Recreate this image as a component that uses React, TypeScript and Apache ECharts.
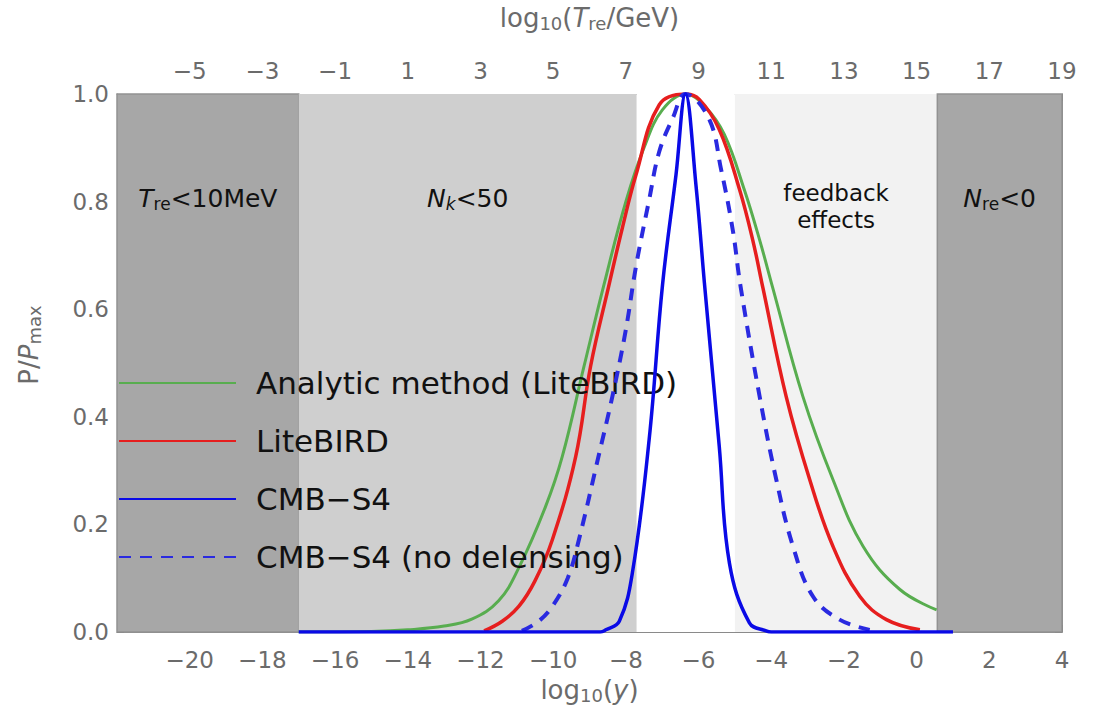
import React, { useEffect, useRef } from 'react';
import * as echarts from 'echarts';

// ---------- data ----------
const X_MIN = -22;
const X_MAX = 4;
const X_STEP = 2;
const TRE_OFFSET = 15; // log10(Tre/GeV) = log10(y) + 15 (top axis)
const Y_MIN = 0;
const Y_MAX = 1;
const Y_STEP = 0.2;

const REGION_EDGES = [-22, -17, -7.7, -5.0, 0.57, 4];
const REGION_LABELS = [
  '{i|T}{s|re}<10MeV',
  '{i|N}{si|k}<50',
  '',
  'feedback\neffects',
  '{i|N}{s|re}<0',
];

const SERIES_NAMES = [
  'Analytic method (LiteBIRD)',
  'LiteBIRD',
  'CMB−S4',
  'CMB−S4 (no delensing)',
];

const ANALYTIC: [number, number][] = [
  [-17, 0], [-15, 0.001], [-14, 0.004], [-13, 0.011], [-12.24, 0.024], [-11.5, 0.058],
  [-10.94, 0.12], [-10.21, 0.233], [-9.75, 0.326], [-9.15, 0.494], [-8.6, 0.646],
  [-8.0, 0.8], [-7.5, 0.9], [-7.0, 0.97], [-6.36, 1.0], [-5.8, 0.975], [-5.29, 0.925],
  [-4.74, 0.822], [-4.32, 0.729], [-3.96, 0.64], [-3.13, 0.438], [-2.3, 0.283],
  [-1.47, 0.159], [-0.46, 0.079], [0.55, 0.041],
];

const LITEBIRD: [number, number][] = [
  [-11.9, 0.002], [-11.4, 0.02], [-10.94, 0.048], [-10.5, 0.095], [-10.02, 0.172],
  [-9.38, 0.326], [-8.97, 0.494], [-8.46, 0.646], [-8.1, 0.75], [-7.72, 0.85],
  [-7.08, 0.98], [-6.36, 1.0], [-5.98, 0.99], [-5.43, 0.934], [-4.87, 0.822],
  [-4.51, 0.729], [-4.23, 0.64], [-3.59, 0.438], [-2.94, 0.283], [-2.3, 0.159],
  [-1.56, 0.066], [-0.83, 0.023], [0.09, 0.004],
];

const CMBS4: [number, number][] = [
  [-17, 0], [-8.7, 0], [-8.55, 0.004], [-8.18, 0.02], [-7.82, 0.11], [-7.36, 0.357],
  [-6.99, 0.646], [-6.62, 0.85], [-6.36, 1.0], [-6.07, 0.83], [-5.84, 0.65],
  [-5.43, 0.345], [-5.15, 0.128], [-4.6, 0.017], [-4.14, 0.002], [-4.0, 0], [1.0, 0],
];

const CMBS4_NO_DELENS: [number, number][] = [
  [-10.86, 0.002], [-10.4, 0.02], [-10.02, 0.048], [-9.6, 0.1], [-9.29, 0.172],
  [-8.74, 0.33], [-8.37, 0.438], [-8.0, 0.562], [-7.72, 0.68], [-7.36, 0.803],
  [-7.08, 0.893], [-6.71, 0.955], [-6.36, 1.0], [-5.72, 0.955], [-5.38, 0.86],
  [-5.06, 0.748], [-4.85, 0.645], [-4.32, 0.438], [-3.86, 0.283], [-3.4, 0.159],
  [-2.85, 0.066], [-2.12, 0.023], [-1.29, 0.004],
];

// ---------- chart ----------
const FONT = 'DejaVu Sans';
const GRAY = '#6b6b6b';

const minus = (v: number) => (v < 0 ? '−' + Math.abs(v) : String(v));

export default function App() {
  const ref = useRef<HTMLDivElement>(null);

  useEffect(() => {
    document.body.style.margin = '0';
    const chart = echarts.init(ref.current!, null, { renderer: 'svg' });

    const shades = ['#a7a7a7', '#cfcfcf', '#ffffff', '#f2f2f2', '#a7a7a7'];
    const borders = ['#929292', 'transparent', 'transparent', 'transparent', '#929292'];
    const labelDist = [92, 92, 0, 86, 92];
    const labelSize = [25, 25, 25, 23, 25];
    const regionRich = {
      i: { fontStyle: 'italic', fontSize: 25, fontFamily: FONT, color: '#111' },
      s: { fontSize: 17, fontFamily: FONT, color: '#111', padding: [10, 0, 0, 0] },
      si: { fontSize: 17, fontStyle: 'italic', fontFamily: FONT, color: '#111', padding: [10, 0, 0, 0] },
    };
    const regions = REGION_LABELS.map((lab, i) => [
      {
        xAxis: REGION_EDGES[i],
        name: lab,
        itemStyle: { color: shades[i], opacity: 1, borderColor: borders[i], borderWidth: 1.5 },
        label: {
          show: lab !== '',
          position: 'insideTop',
          distance: labelDist[i],
          formatter: '{b}',
          fontSize: labelSize[i],
          lineHeight: 27,
          fontFamily: FONT,
          color: '#111',
          align: 'center',
          rich: regionRich,
        },
      },
      { xAxis: REGION_EDGES[i + 1] },
    ]);

    const titleRich = {
      i: { fontStyle: 'italic', fontSize: 26, fontFamily: FONT, color: GRAY },
      s: { fontSize: 18, fontFamily: FONT, color: GRAY, padding: [10, 0, 0, 0] },
    };

    const curve = (
      name: string,
      data: [number, number][],
      color: string,
      width: number,
      type: any,
      z: number
    ) => ({
      name,
      type: 'line',
      data,
      symbol: 'none',
      smooth: 0.4,
      z,
      silent: true,
      lineStyle: { color, width, type },
      itemStyle: { color },
    });

    const xAxisBase = {
      type: 'value',
      min: X_MIN,
      max: X_MAX,
      interval: X_STEP,
      splitLine: { show: false },
      axisLine: { show: true, onZero: false, lineStyle: { color: '#8a8a8a', width: 1 } },
      axisTick: { show: true, inside: true, length: 7, lineStyle: { color: '#777' } },
      nameLocation: 'middle',
      nameTextStyle: { fontSize: 26, fontFamily: FONT, color: GRAY, rich: titleRich },
    };
    const yAxisBase = {
      type: 'value',
      min: Y_MIN,
      max: Y_MAX,
      interval: Y_STEP,
      splitLine: { show: false },
      minorSplitLine: { show: false },
      axisLine: { show: true, onZero: false, lineStyle: { color: '#8a8a8a', width: 1 } },
      axisTick: { show: true, inside: true, length: 7, lineStyle: { color: '#777' } },
      minorTick: { show: true, splitNumber: 4, length: 4, lineStyle: { color: '#777' } },
    };

    chart.setOption({
      animation: false,
      textStyle: { fontFamily: FONT },
      grid: { left: 117, right: 31, top: 94, bottom: 92, containLabel: false },
      legend: {
        orient: 'vertical',
        left: 118,
        top: 366,
        padding: 0,
        itemWidth: 117,
        itemHeight: 14,
        itemGap: 24,
        selectedMode: false,
        data: SERIES_NAMES,
        itemStyle: { opacity: 0 },
        textStyle: {
          fontFamily: FONT,
          fontSize: 31,
          color: '#111',
          lineHeight: 34,
          padding: [0, 0, 0, 15],
        },
      },
      xAxis: [
        {
          ...xAxisBase,
          position: 'bottom',
          name: 'log{s|10}({i|y})',
          nameGap: 44,
          axisLabel: {
            formatter: (v: number) => minus(v),
            showMinLabel: false,
            margin: 16,
            color: GRAY,
            fontSize: 23,
            fontFamily: FONT,
          },
        },
        {
          ...xAxisBase,
          position: 'top',
          name: 'log{s|10}({i|T}{s|re}/GeV)',
          nameGap: 62,
          axisLabel: {
            formatter: (v: number) => minus(v + TRE_OFFSET),
            showMinLabel: false,
            margin: 12,
            color: GRAY,
            fontSize: 23,
            fontFamily: FONT,
          },
        },
      ],
      yAxis: [
        {
          ...yAxisBase,
          position: 'left',
          name: 'P/{i|P}{s|max}',
          nameLocation: 'middle',
          nameGap: 74,
          nameTextStyle: {
            fontSize: 26,
            fontFamily: FONT,
            color: GRAY,
            rich: titleRich,
            padding: [0, 0, 0, 36],
          },
          axisLabel: {
            formatter: (v: number) => v.toFixed(1),
            margin: 8,
            color: GRAY,
            fontSize: 23,
            fontFamily: FONT,
          },
        },
        {
          ...yAxisBase,
          position: 'right',
          axisLabel: { show: false },
        },
      ],
      series: [
        {
          name: 'regions',
          type: 'line',
          data: [],
          z: 1,
          silent: true,
          markArea: { silent: true, data: regions },
        },
        curve(SERIES_NAMES[0], ANALYTIC, '#58ad4f', 3, 'solid', 2),
        curve(SERIES_NAMES[1], LITEBIRD, '#e61e1e', 3.5, 'solid', 3),
        curve(SERIES_NAMES[3], CMBS4_NO_DELENS, '#2a2ae0', 4, [12, 9], 4),
        curve(SERIES_NAMES[2], CMBS4, '#0a0ae6', 3.5, 'solid', 5),
      ],
    });

    return () => chart.dispose();
  }, []);

  return <div ref={ref} style={{ width: 1093, height: 724 }} />;
}
